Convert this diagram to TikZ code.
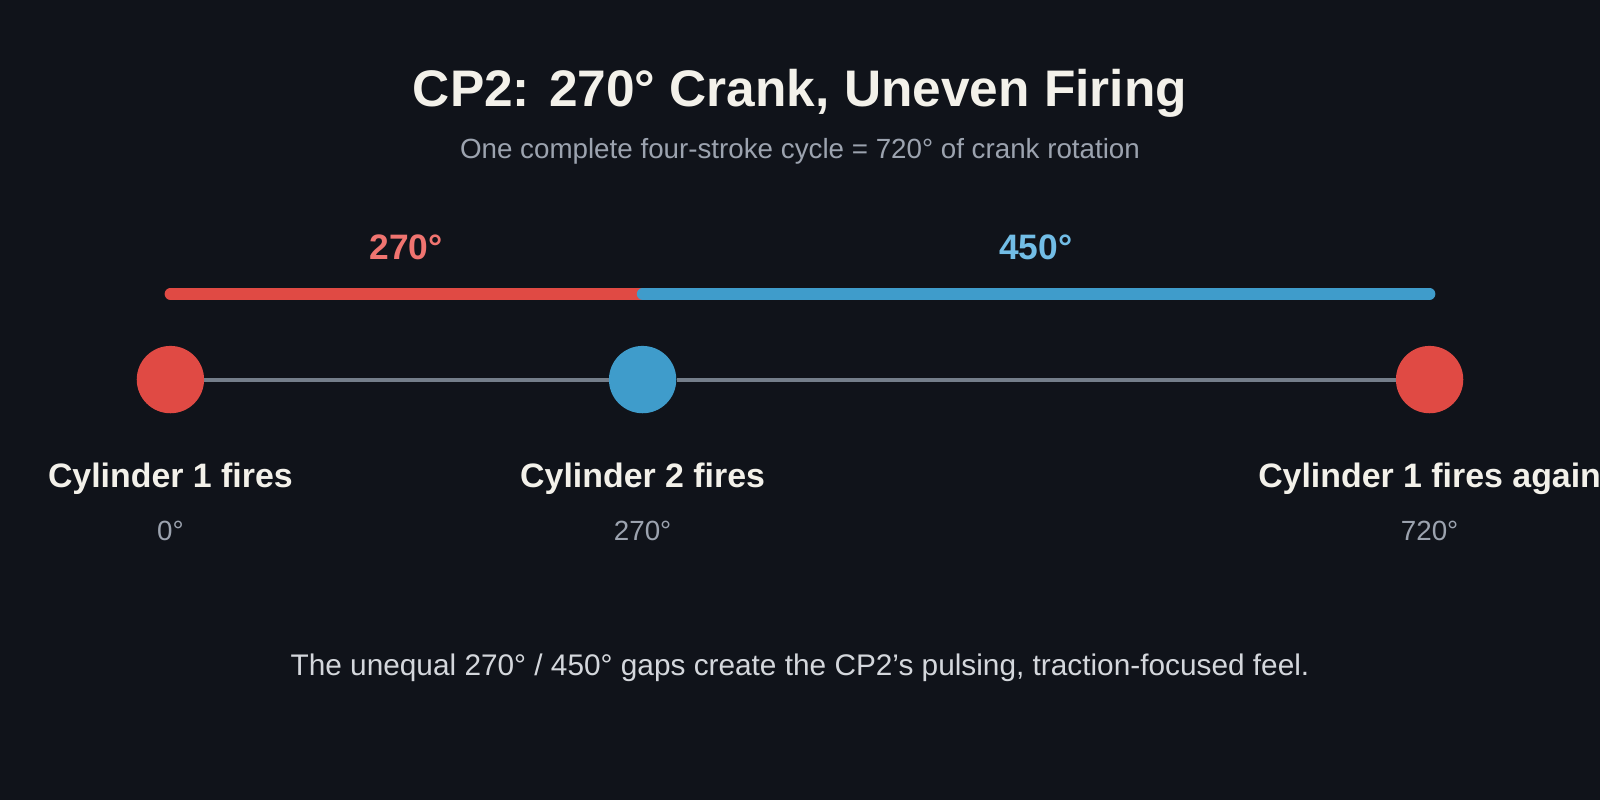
\documentclass[tikz,border=0pt]{standalone}
\usepackage{fontspec}
\setmainfont{Liberation Sans}
\definecolor{bg}{HTML}{10131A}
\definecolor{titlec}{HTML}{F3F1EA}
\definecolor{subc}{HTML}{9CA3AF}
\definecolor{footc}{HTML}{D4D7DC}
\definecolor{redc}{HTML}{E04A44}
\definecolor{bluec}{HTML}{3F9CCB}
\definecolor{redlab}{HTML}{F07470}
\definecolor{bluelab}{HTML}{72BDE6}
\definecolor{linec}{HTML}{747E8A}
\tikzset{
  txt/.style={anchor=base, inner sep=0pt, outer sep=0pt},
  dot/.style={circle, minimum size=49.5pt, inner sep=0pt, draw=none},
  firelab/.style={txt, text=titlec, font=\fontsize{24.9pt}{28pt}\selectfont\bfseries},
  deglab/.style={txt, text=subc, font=\fontsize{20.4pt}{24pt}\selectfont},
}
\begin{document}
\begin{tikzpicture}[x=0.75pt,y=-0.75pt]
\fill[bg] (0,0) rectangle (1568,784);
\useasboundingbox (0,0) rectangle (1568,784);
\clip (0,0) rectangle (1568,784);
% title
\node[txt, text=titlec, font=\fontsize{37.8pt}{44pt}\selectfont\bfseries] (title) at (784,104) {CP2: 270° Crank, Uneven Firing};
\node[txt, text=subc, font=\fontsize{20.4pt}{24pt}\selectfont] (sub) at (784,155) {One complete four-stroke cycle = 720° of crank rotation};
% gap labels
\node[txt, text=redlab, font=\fontsize{26pt}{30pt}\selectfont\bfseries] (g1) at (398,254) {270°};
\node[txt, text=bluelab, font=\fontsize{26pt}{30pt}\selectfont\bfseries] (g2) at (1015,254) {450°};
% bar
\coordinate (b0) at (167,288);
\coordinate (b1) at (629.75,288);
\coordinate (b2) at (1401,288);
\draw[redc, line width=8.5pt, line cap=round] (b0) -- (b1);
\draw[bluec, line width=8.5pt, line cap=round] (b1) -- (b2);
% timeline
\node[dot, fill=redc] (c1) at (167,372) {};
\node[dot, fill=bluec] (c2) at (629.75,372) {};
\node[dot, fill=redc] (c3) at (1401,372) {};
\draw[linec, line width=3pt] (c1) -- (c2);
\draw[linec, line width=3pt] (c2) -- (c3);
% labels
\node[firelab] (l1) at (167,478) {Cylinder 1 fires};
\node[firelab] (l2) at (629.75,478) {Cylinder 2 fires};
\node[firelab] (l3) at (1401,478) {Cylinder 1 fires again};
\node[deglab] (d1) at (167,530) {0°};
\node[deglab] (d2) at (629.75,530) {270°};
\node[deglab] (d3) at (1401,530) {720°};
% footer
\node[txt, text=footc, font=\fontsize{21.9pt}{26pt}\selectfont] (foot) at (784,662) {The unequal 270° / 450° gaps create the CP2’s pulsing, traction-focused feel.};
\end{tikzpicture}
\end{document}
